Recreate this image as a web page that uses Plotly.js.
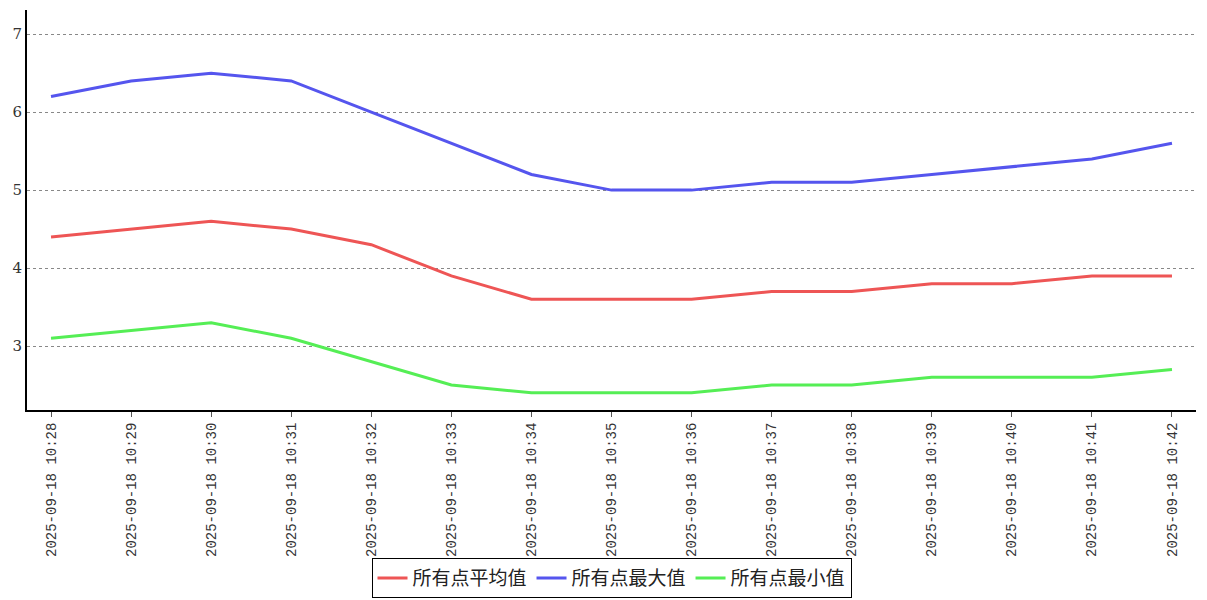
<!DOCTYPE html>
<html>
<head>
<meta charset="utf-8">
<script src="https://cdn.plot.ly/plotly-3.0.1.min.js"></script>
<style>html,body{margin:0;padding:0;background:#fff;}#chart{width:1207px;height:600px;}</style>
</head>
<body>
<div id="chart"></div>
<script>
const categories = ["2025-09-18 10:28","2025-09-18 10:29","2025-09-18 10:30","2025-09-18 10:31","2025-09-18 10:32","2025-09-18 10:33","2025-09-18 10:34","2025-09-18 10:35","2025-09-18 10:36","2025-09-18 10:37","2025-09-18 10:38","2025-09-18 10:39","2025-09-18 10:40","2025-09-18 10:41","2025-09-18 10:42"];
const avgValues = [4.4,4.5,4.6,4.5,4.3,3.9,3.6,3.6,3.6,3.7,3.7,3.8,3.8,3.9,3.9];
const maxValues = [6.2,6.4,6.5,6.4,6.0,5.6,5.2,5.0,5.0,5.1,5.1,5.2,5.3,5.4,5.6];
const minValues = [3.1,3.2,3.3,3.1,2.8,2.5,2.4,2.4,2.4,2.5,2.5,2.6,2.6,2.6,2.7];
const seriesNames = ["所有点平均值","所有点最大值","所有点最小值"];
const seriesColors = ["#ee5555","#5555ee","#55ee55"];

const xIdx = categories.map((_, i) => i);
const series = [avgValues, maxValues, minValues];
const traces = series.map((vals, k) => ({
  x: xIdx, y: vals, type: 'scatter', mode: 'lines', name: seriesNames[k],
  line: {color: seriesColors[k], width: 3}
}));

const layout = {
  width: 1207, height: 600,
  margin: {l: 27, r: 11, t: 10, b: 190},
  paper_bgcolor: '#fff', plot_bgcolor: '#fff',
  showlegend: true,
  legend: {
    orientation: 'h', x: 0.5, xanchor: 'center', xref: 'paper',
    yref: 'container', y: 0.003, yanchor: 'bottom',
    bordercolor: '#000', borderwidth: 1, bgcolor: '#fff',
    font: {family: 'Noto Sans CJK SC, serif', size: 19, color: '#222'},
    itemwidth: 30, tracegroupgap: 0
  },
  xaxis: {
    range: [-0.3, 14.3],
    tickmode: 'array', tickvals: xIdx, ticktext: categories,
    tickangle: -90,
    tickfont: {family: 'Liberation Mono, monospace', size: 14, color: '#333'},
    showline: true, linecolor: '#000', linewidth: 2,
    ticks: 'outside', ticklen: 5, tickcolor: '#555',
    showgrid: false, zeroline: false, fixedrange: true
  },
  yaxis: {
    range: [2.18, 7.31],
    tickvals: [3,4,5,6,7],
    tickfont: {family: 'DejaVu Serif, serif', size: 15, color: '#333'},
    showline: true, linecolor: '#000', linewidth: 2,
    ticks: '', showgrid: true, gridcolor: '#888', griddash: 'dot', gridwidth: 1,
    zeroline: false, fixedrange: true
  }
};

Plotly.newPlot('chart', traces, layout, {displayModeBar: false, staticPlot: true});
</script>
</body>
</html>
